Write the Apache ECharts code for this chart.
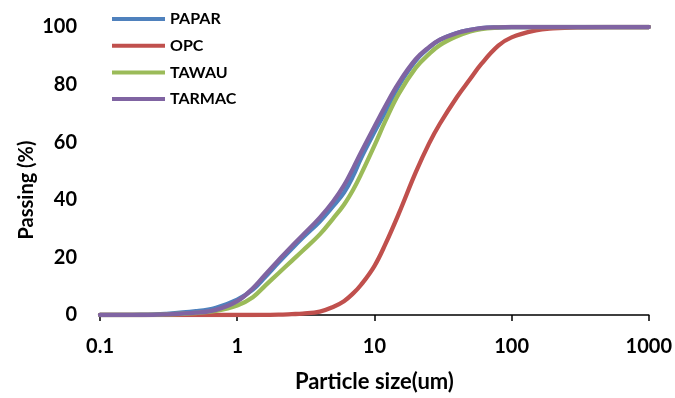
<!DOCTYPE html>
<html>
<head>
<meta charset="utf-8">
<script src="https://cdn.jsdelivr.net/npm/echarts@6/dist/echarts.min.js"></script>
<style>
  html, body { margin: 0; padding: 0; background: #fff; }
  #chart { width: 675px; height: 398px; }
</style>
</head>
<body>
<div id="chart"></div>
<script>
// Particle size (um) at which the cumulative passing was sampled
const sizes = [0.1, 0.2, 0.3, 0.5, 0.7, 1, 1.3, 1.6, 2, 2.5, 3, 4, 5, 6, 7, 8, 10, 12, 15, 20, 25, 30, 40, 50, 60, 80, 100, 150, 200, 300, 500, 1000];

// Cumulative passing (%) for each material
const papar  = [0, 0.1, 0.4, 1.3, 2.5, 5.3, 8.8, 13.2, 18.2, 23.0, 26.8, 32.5, 37.8, 42.5, 48.3, 54.5, 63.5, 70.5, 79.5, 88.3, 92.8, 95.5, 97.9, 99.0, 99.6, 99.9, 100, 100, 100, 100, 100, 100];
const opc    = [0, 0, 0, 0, 0, 0, 0, 0.05, 0.1, 0.3, 0.5, 1.2, 2.8, 4.8, 7.5, 10.5, 17.0, 24.5, 35.0, 49.5, 59.5, 66.4, 75.7, 82.0, 87.1, 93.5, 96.4, 98.8, 99.5, 99.9, 100, 100];
const tawau  = [0, 0, 0.2, 0.7, 1.4, 3.3, 6.2, 10.2, 14.5, 18.8, 22.3, 28.0, 33.5, 38.3, 43.5, 48.9, 58.8, 67.3, 76.7, 85.8, 90.6, 93.7, 96.8, 98.5, 99.3, 99.8, 100, 100, 100, 100, 100, 100];
const tarmac = [0, 0, 0.2, 0.8, 1.8, 4.8, 9.3, 14.0, 19.0, 23.9, 27.7, 33.8, 39.4, 45.0, 51.0, 56.5, 65.4, 72.5, 80.5, 88.8, 93.0, 95.6, 97.9, 99.0, 99.6, 99.9, 100, 100, 100, 100, 100, 100];

const seriesNames = ['PAPAR', 'OPC', 'TAWAU', 'TARMAC'];
const seriesColors = ['#4F81BD', '#C0504D', '#9BBB59', '#8064A2'];
const xTickLabels = ['0.1', '1', '10', '100', '1000'];
const yTickLabels = ['0', '20', '40', '60', '80', '100'];

const FONT = 'Lato, "Liberation Sans", sans-serif';

const pairs = (ys) => sizes.map((x, i) => [x, ys[i]]);
const allValues = [papar, opc, tawau, tarmac];

const chart = echarts.init(document.getElementById('chart'), null, { renderer: 'canvas' });

chart.setOption({
  animation: false,
  backgroundColor: '#ffffff',
  grid: { left: 100, right: 25, top: 27, bottom: 83, containLabel: false },
  legend: {
    data: seriesNames,
    orient: 'vertical',
    left: 112,
    top: 11,
    padding: 0,
    icon: 'rect',
    itemWidth: 53,
    itemHeight: 4,
    itemGap: 10.7,
    textStyle: { fontFamily: FONT, fontWeight: 'bold', fontSize: 16, color: '#000', lineHeight: 16 }
  },
  xAxis: {
    type: 'log',
    logBase: 10,
    min: 0.1,
    max: 1000,
    name: 'Particle size(um)',
    nameLocation: 'middle',
    nameGap: 56,
    nameTextStyle: { fontFamily: FONT, fontWeight: 'bold', fontSize: 22, color: '#000' },
    axisLine: { show: true, lineStyle: { color: '#000', width: 1.5 } },
    axisTick: { show: true, inside: false, length: 6, lineStyle: { color: '#000', width: 1.5 } },
    minorTick: { show: false },
    splitLine: { show: false },
    axisLabel: {
      margin: 22,
      fontFamily: FONT, fontWeight: 'bold', fontSize: 20, color: '#000',
      formatter: (v) => {
        const k = Math.round(Math.log10(v)) + 1;
        return xTickLabels[k] !== undefined ? xTickLabels[k] : '';
      }
    }
  },
  yAxis: {
    type: 'value',
    min: 0,
    max: 100,
    interval: 20,
    axisLine: { show: false },
    axisTick: { show: false },
    splitLine: { show: false },
    axisLabel: {
      margin: 23,
      fontFamily: FONT, fontWeight: 'bold', fontSize: 20, color: '#000',
      formatter: (v) => yTickLabels[Math.round(v / 20)]
    }
  },
  graphic: [{
    type: 'text',
    x: 27,
    y: 190,
    rotation: Math.PI / 2,
    style: {
      text: 'Passing (%)',
      align: 'center',
      verticalAlign: 'middle',
      fontFamily: FONT, fontWeight: 'bold', fontSize: 20, fill: '#000'
    }
  }],
  series: seriesNames.map((name, i) => ({
    name,
    type: 'line',
    data: pairs(allValues[i]),
    showSymbol: false,
    symbol: 'none',
    smooth: 0.4,
    color: seriesColors[i],
    lineStyle: { width: 4.3, color: seriesColors[i], cap: 'round', join: 'round' },
    z: 2 + i
  }))
});
</script>
</body>
</html>
